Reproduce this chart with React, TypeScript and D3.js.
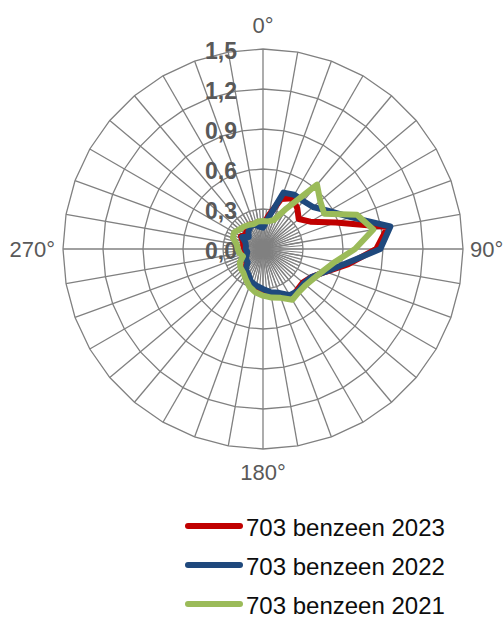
import React from "react";
import * as d3 from "d3";

const directions = [0, 10, 20, 30, 40, 50, 60, 70, 80, 90, 100, 110, 120, 130, 140, 150, 160, 170, 180, 190, 200, 210, 220, 230, 240, 250, 260, 270, 280, 290, 300, 310, 320, 330, 340, 350];
const directionLabels = ["0°", "", "", "", "", "", "", "", "", "90°", "", "", "", "", "", "", "", "", "180°", "", "", "", "", "", "", "", "", "270°", "", "", "", "", "", "", "", ""];
const valueTicks = [0, 0.3, 0.6, 0.9, 1.2, 1.5];
const valueTickLabels = ["0,0", "0,3", "0,6", "0,9", "1,2", "1,5"];
const seriesNames = ["703 benzeen 2023", "703 benzeen 2022", "703 benzeen 2021"];
const seriesColors = ["#C00000", "#1F497D", "#9BBB59"];

const benzeen2023 = [0.18, 0.26, 0.40, 0.44, 0.40, 0.35, 0.41, 0.58, 0.95, 0.85, 0.65, 0.50, 0.42, 0.39, 0.40, 0.42, 0.38, 0.35, 0.31, 0.29, 0.27, 0.23, 0.21, 0.16, 0.15, 0.14, 0.13, 0.14, 0.15, 0.16, 0.19, 0.17, 0.19, 0.21, 0.20, 0.19];
const benzeen2022 = [0.16, 0.24, 0.45, 0.47, 0.47, 0.49, 0.57, 0.70, 0.97, 0.88, 0.63, 0.50, 0.42, 0.40, 0.41, 0.40, 0.35, 0.33, 0.30, 0.28, 0.26, 0.22, 0.20, 0.15, 0.15, 0.13, 0.12, 0.13, 0.13, 0.14, 0.18, 0.14, 0.17, 0.19, 0.20, 0.17];
const benzeen2021 = [0.21, 0.21, 0.23, 0.35, 0.63, 0.56, 0.53, 0.75, 0.84, 0.69, 0.55, 0.48, 0.44, 0.42, 0.42, 0.44, 0.39, 0.37, 0.35, 0.33, 0.30, 0.26, 0.23, 0.22, 0.20, 0.16, 0.18, 0.19, 0.20, 0.24, 0.25, 0.23, 0.22, 0.21, 0.20, 0.21];

const W = 504;
const H = 617;
const cx = 263;
const cy = 249;
const R = 200;
const FONT = "'Liberation Sans', Arial, sans-serif";

export default function App() {
  const r = d3.scaleLinear().domain([0, 1.5]).range([0, R]);
  const a = d3.scaleLinear().domain([0, 360]).range([0, 2 * Math.PI]);
  const pt = (deg: number, rad: number): [number, number] => [
    cx + rad * Math.sin(a(deg)),
    cy - rad * Math.cos(a(deg)),
  ];

  const series = [benzeen2023, benzeen2022, benzeen2021];
  const lineGen = d3
    .lineRadial<number>()
    .angle((_, i) => a(directions[i]))
    .radius((d) => r(d))
    .curve(d3.curveLinearClosed);

  const ringGen = d3
    .lineRadial<number>()
    .angle((d) => a(d))
    .radius(0)
    .curve(d3.curveLinearClosed);

  const fineDirs = d3.range(0, 360, 5);
  const gridColor = "#808080";

  return (
    <svg width={W} height={H} style={{ position: "absolute", left: 0, top: 0, background: "#fff" }}>
      <rect x={0} y={0} width={W} height={H} fill="#fff" />
      <g>
        {fineDirs.map((d) => {
          const [x2, y2] = pt(d, r(0.3));
          return <line key={"f" + d} x1={cx} y1={cy} x2={x2} y2={y2} stroke={gridColor} strokeWidth={1.2} />;
        })}
        {directions.map((d) => {
          const [x2, y2] = pt(d, R);
          return <line key={"s" + d} x1={cx} y1={cy} x2={x2} y2={y2} stroke={gridColor} strokeWidth={1.3} />;
        })}
        {valueTicks.slice(1).map((v) => (
          <path
            key={"r" + v}
            transform={`translate(${cx},${cy})`}
            d={ringGen.radius(r(v))(directions) || ""}
            fill="none"
            stroke={gridColor}
            strokeWidth={1.3}
          />
        ))}
      </g>
      <g fontFamily={FONT} fontWeight="bold" fontSize={23} fill="#595959">
        {valueTicks.map((v, i) => (
          <text key={"t" + v} x={237} y={cy - r(v) + 2} textAnchor="end" dominantBaseline="central">
            {valueTickLabels[i]}
          </text>
        ))}
      </g>
      <g fontFamily={FONT} fontSize={22} fill="#595959">
        {directions.map((d, i) => {
          const lab = directionLabels[i];
          if (!lab) return null;
          let x = cx, y = cy, anchor = "middle";
          if (d === 0) { y = cy - R - 24; }
          else if (d === 90) { x = cx + R + 7; anchor = "start"; }
          else if (d === 180) { y = cy + R + 23; }
          else if (d === 270) { x = cx - R - 8; anchor = "end"; }
          return (
            <text key={"l" + d} x={x} y={y} textAnchor={anchor} dominantBaseline="central">
              {lab}
            </text>
          );
        })}
      </g>
      <g transform={`translate(${cx},${cy})`}>
        {series.map((s, i) => (
          <path
            key={"p" + i}
            d={lineGen(s) || ""}
            fill="none"
            stroke={seriesColors[i]}
            strokeWidth={6}
            strokeLinejoin="round"
          />
        ))}
      </g>
      <g fontFamily={FONT} fontSize={24} fill="#0d0d0d">
        {seriesNames.map((n, i) => {
          const y = 526 + i * 39;
          return (
            <g key={"g" + i}>
              <line x1={188} x2={240} y1={y} y2={y} stroke={seriesColors[i]} strokeWidth={6} strokeLinecap="round" />
              <text x={246} y={y + 1} dominantBaseline="central">{n}</text>
            </g>
          );
        })}
      </g>
    </svg>
  );
}
